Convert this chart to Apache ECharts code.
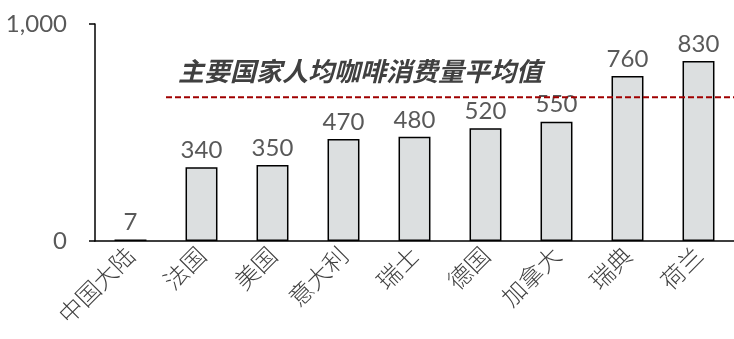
<!DOCTYPE html>
<html>
<head>
<meta charset="utf-8">
<script src="https://cdn.jsdelivr.net/npm/echarts@6/dist/echarts.min.js"></script>
<style>
  html, body { margin: 0; padding: 0; background: #fff; }
  #chart { width: 734px; height: 339px; }
</style>
</head>
<body>
<div id="chart"></div>
<script>
// Per-capita coffee consumption by country
const categories = ['中国大陆', '法国', '美国', '意大利', '瑞士', '德国', '加拿大', '瑞典', '荷兰'];
const consumption = [7, 340, 350, 470, 480, 520, 550, 760, 830];
const averageValue = 663;
const averageLabel = '主要国家人均咖啡消费量平均值';
// The average line spans from the 法国 band edge to the right end of the axis
const averageSpan = [1, 9];
const yTicks = [0, 1000];

const chart = echarts.init(document.getElementById('chart'));
const labelFont = '"Lato", "Noto Sans CJK SC", sans-serif';

chart.setOption({
  animation: false,
  grid: { left: 95, right: 0, top: 24, bottom: 98, containLabel: false },
  xAxis: [
    {
      type: 'category',
      data: categories,
      boundaryGap: true,
      axisLine: { lineStyle: { color: '#000', width: 1.5 } },
      axisTick: { alignWithLabel: false, length: 6, lineStyle: { color: '#000', width: 1.5 } },
      axisLabel: {
        rotate: 45, color: '#404040', fontSize: 24, margin: 10, fontWeight: 300,
        fontFamily: '"Noto Sans CJK SC", sans-serif'
      }
    },
    {
      type: 'value', min: 0, max: categories.length, show: false
    }
  ],
  yAxis: {
    type: 'value',
    min: yTicks[0], max: yTicks[1], interval: yTicks[1] - yTicks[0],
    splitLine: { show: false },
    axisLine: { show: true, lineStyle: { color: '#000', width: 1.5 } },
    axisTick: { show: true, length: 6, lineStyle: { color: '#000', width: 1.5 } },
    axisLabel: {
      color: '#595959', fontSize: 24, margin: 28, fontFamily: labelFont,
      formatter: v => v.toLocaleString('en-US')
    }
  },
  series: [
    {
      type: 'bar',
      data: consumption,
      barWidth: '45%',
      itemStyle: { color: '#dcdfe0', borderColor: '#000', borderWidth: 1.5 },
      label: {
        show: true, position: 'top', distance: 5,
        color: '#595959', fontSize: 24, fontFamily: labelFont
      }
    },
    {
      type: 'line',
      xAxisIndex: 1,
      data: averageSpan.map(x => [x, averageValue]),
      symbol: 'none',
      lineStyle: { color: '#a00000', width: 2, type: [6, 3] },
      z: 5
    }
  ],
  graphic: [
    {
      type: 'text',
      left: 178, top: 58,
      style: {
        text: averageLabel,
        fill: '#404040',
        font: 'italic bold 26px "Noto Sans CJK SC", sans-serif'
      }
    }
  ]
});
</script>
</body>
</html>
